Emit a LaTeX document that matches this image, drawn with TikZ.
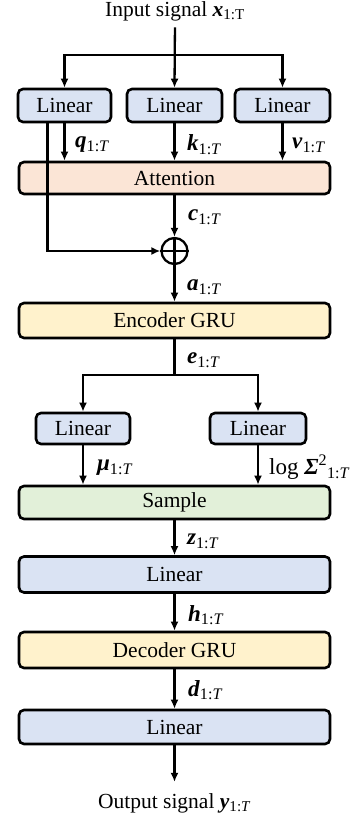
\documentclass[tikz,border=0pt]{standalone}
\usepackage{fontspec}
\setmainfont{Liberation Serif}
\usetikzlibrary{arrows.meta}
\definecolor{lblue}{HTML}{DAE3F3}
\definecolor{lorange}{HTML}{FBE5D6}
\definecolor{lyellow}{HTML}{FFF2CC}
\definecolor{lgreen}{HTML}{E2F0D9}
\newcommand{\vb}[1]{\textbf{\textit{#1}}}
\newcommand{\idxT}{\textsubscript{1:\textit{T}}}
\begin{document}
\begin{tikzpicture}[x=1pt,y=-1pt,
  font=\fontsize{21.5}{24}\selectfont,
  blk/.style={draw=black, line width=2.6pt, rounded corners=5pt, inner sep=0pt},
  arr/.style={line width=2.3pt, -{Latex[length=9pt,width=8pt]}},
  ln/.style={line width=2.3pt},
  lab/.style={anchor=west, inner sep=0pt, font=\fontsize{23}{24}\selectfont}]
\useasboundingbox (0,0) rectangle (352,818);

% nodes
\node[inner sep=0pt, anchor=base] (in) at (175,16.5) {Input signal \vb{x}\textsubscript{1:T}};
\node[blk, fill=lblue, minimum width=93pt, minimum height=33pt] (lq) at (64.5,105.5) {Linear};
\node[blk, fill=lblue, minimum width=95pt, minimum height=33pt] (lk) at (174.5,105.5) {Linear};
\node[blk, fill=lblue, minimum width=95pt, minimum height=33pt] (lv) at (282.5,105.5) {Linear};
\node[blk, fill=lorange, minimum width=311pt, minimum height=32pt] (att) at (174.5,178) {Attention};
\node[draw, circle, line width=2.3pt, minimum size=26pt, inner sep=0pt] (plus) at (174.5,251) {};
\node[blk, fill=lyellow, minimum width=311pt, minimum height=35pt] (enc) at (174.5,320.5) {Encoder GRU};
\node[blk, fill=lblue, minimum width=94pt, minimum height=31pt] (lmu) at (83,428.5) {Linear};
\node[blk, fill=lblue, minimum width=96pt, minimum height=31pt] (lsig) at (258,428.5) {Linear};
\node[blk, fill=lgreen, minimum width=311pt, minimum height=33pt] (samp) at (174.5,502.5) {Sample};
\node[blk, fill=lblue, minimum width=311pt, minimum height=36pt] (lin1) at (174.5,574.5) {Linear};
\node[blk, fill=lyellow, minimum width=311pt, minimum height=36pt] (dec) at (174.5,650) {Decoder GRU};
\node[blk, fill=lblue, minimum width=311pt, minimum height=34pt] (lin2) at (174.5,727) {Linear};
\node[inner sep=0pt, anchor=base] (out) at (174.5,808) {Output signal \vb{y}\idxT};

\coordinate (b1) at (174.5,55);
\coordinate (b2) at (174.5,375);

% plus sign
\draw[ln] (plus.north) -- (plus.south) (plus.west) -- (plus.east);

% connectors
\draw[arr, shorten <=6pt] (in.south) -- (lk.north);
\draw[arr] (b1) -| (lq.north);
\draw[arr] (b1) -| (lv.north);
\draw[arr] (lq.south) -- (lq.south |- att.north);
\draw[arr] (lk.south) -- (att.north);
\draw[arr] (lv.south) -- (lv.south |- att.north);
\draw[arr] ([xshift=-17pt]lq.south) |- (plus.west);
\draw[arr] (att.south) -- (plus.north);
\draw[arr] (plus.south) -- (enc.north);
\draw[ln] (enc.south) -- (b2);
\draw[arr] (b2) -| (lmu.north);
\draw[arr] (b2) -| (lsig.north);
\draw[arr] (lmu.south) -- (lmu.south |- samp.north);
\draw[arr] (lsig.south) -- (lsig.south |- samp.north);
\draw[arr] (samp.south) -- (lin1.north);
\draw[arr] (lin1.south) -- (dec.north);
\draw[arr] (dec.south) -- (lin2.north);
\draw[arr, shorten >=11pt] (lin2.south) -- (out.north);

% labels
\node[lab] (tq) at (75,145) {\vb{q}\idxT};
\node[lab] (tk) at (187,145) {\vb{k}\idxT};
\node[lab] (tv) at (292,145) {\vb{v}\idxT};
\node[lab] (tc) at (188,217) {\vb{c}\idxT};
\node[lab] (ta) at (187,287) {\vb{a}\idxT};
\node[lab] (te) at (187,360) {\vb{e}\idxT};
\node[lab] (tmu) at (97,468) {\vb{μ}\idxT};
\node[lab] (tsig) at (269,467) {log \vb{Σ}\textsuperscript{2}\idxT};
\node[lab] (tz) at (187,541) {\vb{z}\idxT};
\node[lab] (th) at (188,615) {\vb{h}\idxT};
\node[lab] (td) at (188,690) {\vb{d}\idxT};
\end{tikzpicture}
\end{document}
